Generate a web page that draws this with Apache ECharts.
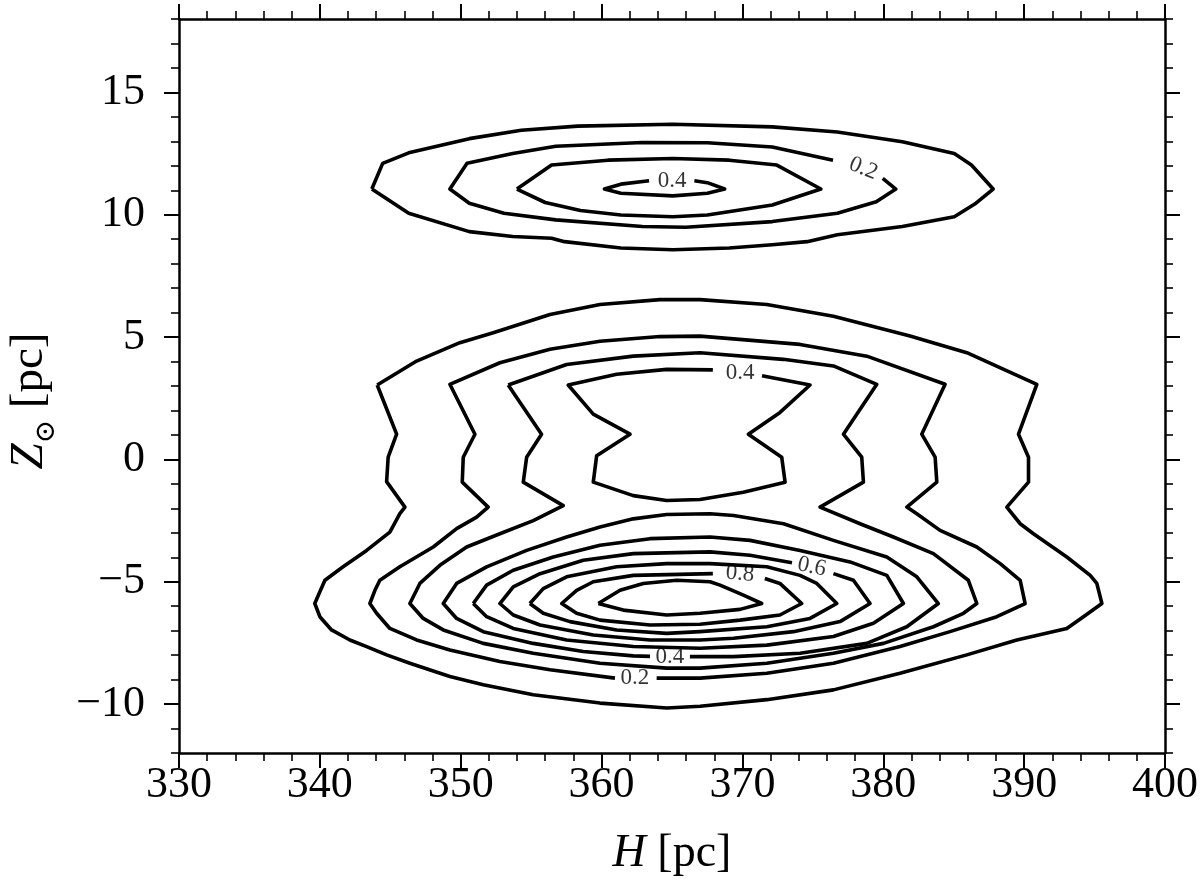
<!DOCTYPE html>
<html><head><meta charset="utf-8">
<script src="https://cdn.jsdelivr.net/npm/echarts@6/dist/echarts.min.js"></script>
<style>html,body{margin:0;padding:0;background:#fff}#c{width:1200px;height:894px}</style>
</head><body><div id="c"></div>
<script>
// ---- axis ticks ----
const xTicks = [330, 340, 350, 360, 370, 380, 390, 400];
const yTicks = [-10, -5, 0, 5, 10, 15];

// ---- upper cluster (Z ~ 11 pc), levels 0.1 .. 0.4 ----
const top01 = [[343.69,11.05],[344.46,12.10],[346.31,12.53],[350.61,13.11],[354.30,13.45],[358.30,13.62],[365.06,13.70],[372.12,13.59],[376.74,13.38],[381.35,12.98],[385.04,12.50],[386.26,12.03],[387.80,11.05],[386.58,10.47],[385.04,9.92],[381.35,9.52],[376.74,9.18],[374.59,8.90],[372.12,8.77],[369.06,8.64],[365.06,8.57],[361.37,8.64],[357.37,8.90],[356.45,9.04],[353.69,9.11],[350.61,9.31],[346.31,10.06],[343.69,11.05]];
const top02 = [[379.96,11.49],[380.89,11.05],[379.50,10.53],[376.74,10.06],[372.12,9.72],[365.98,9.49],[362.90,9.52],[356.75,9.79],[353.07,10.06],[350.61,10.47],[349.23,11.05],[350.45,12.10],[353.69,12.50],[356.75,12.80],[362.90,12.95],[367.51,12.94],[372.12,12.77],[376.43,12.23]];
const top03 = [[353.99,11.05],[356.45,12.03],[360.45,12.23],[365.06,12.30],[369.06,12.23],[372.44,12.03],[375.57,11.05],[372.12,10.40],[367.51,9.99],[365.06,9.92],[361.37,9.99],[358.50,10.17],[356.00,10.50],[353.99,11.05]];
const top04 = [[366.59,11.39],[367.51,11.31],[368.74,11.05],[367.51,10.88],[365.06,10.77],[361.37,10.88],[360.20,11.05],[361.37,11.25],[363.37,11.39]];

// ---- lower cluster, levels 0.1 .. 0.9 ----
const low01 = [[344.07,3.04],[346.87,4.02],[349.94,4.77],[352.31,5.18],[356.34,5.92],[359.89,6.33],[364.15,6.53],[366.99,6.53],[371.73,6.33],[376.46,5.85],[381.90,5.04],[385.93,4.36],[390.90,3.07],[389.60,1.03],[390.31,0.09],[390.31,-0.93],[388.77,-1.95],[389.72,-2.63],[390.66,-3.04],[393.03,-3.99],[394.69,-4.74],[395.16,-5.07],[395.52,-5.89],[394.21,-6.43],[393.03,-6.91],[389.48,-7.38],[385.93,-7.99],[381.19,-8.74],[376.46,-9.42],[371.73,-9.82],[366.99,-10.09],[364.63,-10.16],[359.89,-9.96],[355.15,-9.62],[351.60,-9.21],[349.23,-8.87],[346.39,-8.33],[344.74,-7.99],[343.32,-7.65],[342.13,-7.38],[340.83,-6.97],[340.00,-6.43],[339.64,-5.89],[340.00,-5.41],[340.36,-4.94],[341.65,-4.39],[343.32,-3.72],[344.97,-2.97],[345.68,-2.22],[346.04,-1.95],[344.74,-0.91],[344.85,0.09],[345.45,1.03],[344.07,3.04]];
const low02 = [[363.91,-8.94],[366.99,-8.94],[371.73,-8.74],[376.46,-8.33],[381.19,-7.65],[384.74,-7.04],[388.06,-6.43],[390.07,-5.89],[389.72,-4.94],[388.30,-4.26],[386.64,-3.58],[384.03,-2.90],[382.38,-2.22],[381.67,-1.95],[383.80,-0.93],[383.68,0.09],[382.73,1.03],[384.39,3.07],[378.83,4.22],[374.09,4.70],[366.99,5.04],[364.15,5.02],[359.89,4.83],[356.34,4.50],[352.78,3.95],[349.23,3.07],[351.01,1.03],[350.18,0.09],[350.11,-0.93],[351.95,-1.95],[351.13,-2.36],[349.71,-2.83],[348.05,-3.58],[345.68,-4.39],[344.26,-4.94],[343.91,-5.35],[343.55,-5.89],[344.03,-6.29],[344.97,-6.91],[346.87,-7.38],[349.23,-7.79],[352.78,-8.26],[356.34,-8.60],[360.95,-8.94]];
const low03 = [[353.37,3.04],[357.52,3.88],[362.25,4.22],[366.99,4.36],[372.90,4.09],[376.46,3.82],[379.54,3.07],[377.17,1.03],[378.47,0.09],[378.59,-0.93],[375.51,-1.95],[378.35,-2.63],[380.72,-3.17],[383.56,-3.85],[386.04,-4.94],[386.64,-5.89],[385.69,-6.29],[383.56,-6.84],[380.01,-7.52],[376.46,-7.92],[371.73,-8.33],[366.99,-8.53],[364.63,-8.53],[359.89,-8.33],[355.15,-7.92],[351.60,-7.52],[348.76,-6.97],[347.34,-6.50],[346.39,-5.89],[347.10,-5.07],[348.52,-4.33],[350.42,-3.58],[352.78,-3.04],[355.15,-2.50],[357.28,-1.89],[354.44,-0.93],[354.68,0.09],[355.74,1.03],[353.37,3.04]];
const low04a = [[371.39,3.42],[374.80,3.04],[372.67,1.92],[370.42,1.03],[372.79,0.09],[373.03,-0.93],[370.06,-1.34],[366.99,-1.64],[364.62,-1.68],[362.25,-1.48],[359.41,-0.93],[359.65,0.15],[362.02,1.03],[359.41,1.85],[357.63,3.04],[361.07,3.48],[364.62,3.68],[367.90,3.66]];
const low04b = [[363.44,-8.05],[362.25,-8.03],[358.70,-7.85],[355.15,-7.52],[351.60,-7.04],[349.71,-6.50],[348.76,-5.89],[349.71,-5.07],[351.84,-4.39],[354.68,-3.72],[357.52,-3.17],[359.89,-2.76],[362.25,-2.43],[364.62,-2.25],[367.70,-2.22],[369.37,-2.29],[372.92,-2.63],[376.46,-3.31],[380.25,-3.99],[382.38,-4.80],[383.91,-5.89],[381.67,-6.84],[378.83,-7.52],[374.09,-7.92],[369.37,-8.06],[366.27,-8.06]];
const low05 = [[350.89,-5.89],[351.84,-5.14],[353.73,-4.53],[356.57,-3.99],[359.89,-3.51],[363.44,-3.24],[367.70,-3.17],[370.54,-3.31],[374.09,-3.72],[377.64,-4.19],[380.25,-4.74],[381.43,-5.89],[379.30,-6.70],[376.46,-7.24],[371.73,-7.59],[366.99,-7.72],[362.25,-7.65],[357.52,-7.38],[353.73,-6.91],[351.84,-6.43],[350.89,-5.89]];
const low06 = [[376.46,-4.67],[377.88,-4.94],[379.06,-5.89],[376.93,-6.63],[373.62,-7.04],[369.37,-7.31],[366.99,-7.38],[363.44,-7.38],[359.41,-7.18],[355.63,-6.77],[353.73,-6.36],[352.78,-5.89],[353.73,-5.21],[355.63,-4.67],[358.70,-4.12],[362.25,-3.85],[367.70,-3.78],[370.54,-3.92],[373.52,-4.22]];
const low07 = [[354.91,-5.89],[355.86,-5.28],[357.52,-4.80],[361.07,-4.39],[364.62,-4.26],[367.70,-4.26],[371.73,-4.39],[374.09,-4.74],[375.28,-5.07],[376.70,-5.89],[374.80,-6.50],[371.73,-6.84],[366.99,-7.04],[364.62,-7.11],[361.07,-6.97],[357.75,-6.63],[355.86,-6.29],[354.91,-5.89]];
const low08 = [[371.59,-4.87],[372.66,-5.07],[374.21,-5.89],[372.66,-6.36],[369.83,-6.57],[366.99,-6.74],[363.44,-6.77],[359.89,-6.57],[358.23,-6.29],[357.17,-5.89],[358.23,-5.35],[359.41,-5.00],[362.25,-4.74],[367.90,-4.67]];
const low09 = [[359.77,-5.89],[361.31,-5.35],[362.96,-5.07],[365.33,-4.94],[367.70,-5.00],[368.41,-5.14],[370.07,-5.55],[371.37,-5.89],[369.83,-6.13],[366.99,-6.29],[364.62,-6.36],[361.54,-6.16],[359.77,-5.89]];

// ---- contour labels ----
const labelText = ['0.2', '0.4', '0.4', '0.6', '0.8', '0.4', '0.2'];
const labelX = [378.58, 365.00, 369.83, 374.92, 369.83, 364.85, 362.37];
const labelY = [11.89, 11.38, 3.55, -4.39, -4.67, -8.06, -8.95];

// ---- styling ----
const FONT = '"Liberation Serif", "DejaVu Serif", serif';
const labelAngle = [-22, 0, 0, -12, -5, 0, 0];
const contours = [top01, top02, top03, top04, low01, low02, low03, low04a, low04b, low05, low06, low07, low08, low09];

const fmt = v => v < 0 ? '\u2212' + Math.abs(v) : String(v);
const axisLineStyle = {color: '#000', width: 2.5};
const majorTick = {color: '#000', width: 2};
const minorTickStyle = {color: '#000', width: 1.6};

const chart = echarts.init(document.getElementById('c'), null, {renderer: 'canvas'});
const option = {
  animation: false,
  backgroundColor: '#fff',
  grid: {left: 179, top: 19, width: 986, height: 734, containLabel: false, outerBoundsMode: 'none'},
  xAxis: [
    {type: 'value', min: xTicks[0], max: xTicks[xTicks.length - 1], interval: 10, position: 'bottom',
     axisLine: {show: true, onZero: false, lineStyle: axisLineStyle},
     axisTick: {show: true, inside: false, length: 15, lineStyle: majorTick},
     minorTick: {show: true, splitNumber: 5, length: 8, lineStyle: minorTickStyle},
     axisLabel: {fontSize: 44, fontFamily: FONT, color: '#000', margin: 10},
     splitLine: {show: false},
     name: '{i|H} [pc]', nameLocation: 'middle', nameGap: 78,
     nameTextStyle: {fontSize: 46, fontFamily: FONT, color: '#000',
       rich: {i: {fontSize: 46, fontFamily: FONT, fontStyle: 'italic', color: '#000'}}}},
    {type: 'value', min: xTicks[0], max: xTicks[xTicks.length - 1], interval: 10, position: 'top',
     axisLine: {show: true, onZero: false, lineStyle: axisLineStyle},
     axisTick: {show: true, inside: false, length: 15, lineStyle: majorTick},
     minorTick: {show: true, splitNumber: 5, length: 8, lineStyle: minorTickStyle},
     axisLabel: {show: false}, splitLine: {show: false}}
  ],
  yAxis: [
    {type: 'value', min: -12, max: 18, position: 'left',
     axisLine: {show: true, onZero: false, lineStyle: axisLineStyle},
     axisTick: {show: true, inside: false, length: 15, lineStyle: majorTick, customValues: yTicks},
     axisLabel: {fontSize: 44, fontFamily: FONT, color: '#000', margin: 34, customValues: yTicks, formatter: fmt},
     splitLine: {show: false},
     name: '{i|Z}{s|\u2299} [pc]', nameLocation: 'middle', nameGap: 118,
     nameTextStyle: {fontSize: 47, fontFamily: FONT, color: '#000', padding: [0, 30, 0, 0],
       rich: {i: {fontSize: 47, fontFamily: FONT, fontStyle: 'italic', color: '#000'},
              s: {fontSize: 28, fontFamily: '"DejaVu Serif", serif', color: '#000', verticalAlign: 'bottom', lineHeight: 62}}}},
    {type: 'value', min: -12, max: 18, interval: 1, position: 'left',
     axisLine: {show: false, onZero: false},
     axisTick: {show: true, inside: false, length: 8, lineStyle: minorTickStyle},
     axisLabel: {show: false}, splitLine: {show: false}},
    {type: 'value', min: -12, max: 18, position: 'right',
     axisLine: {show: true, onZero: false, lineStyle: axisLineStyle},
     axisTick: {show: true, inside: false, length: 15, lineStyle: majorTick, customValues: yTicks},
     axisLabel: {show: false}, splitLine: {show: false}},
    {type: 'value', min: -12, max: 18, interval: 1, position: 'right',
     axisLine: {show: false, onZero: false},
     axisTick: {show: true, inside: false, length: 8, lineStyle: minorTickStyle},
     axisLabel: {show: false}, splitLine: {show: false}}
  ],
  series: contours.map(d => ({
    type: 'line', data: d, xAxisIndex: 0, yAxisIndex: 0,
    showSymbol: false, symbol: 'none', smooth: false, silent: true,
    lineStyle: {color: '#000', width: 3.6, join: 'round'}
  })).concat([{
    type: 'scatter', xAxisIndex: 0, yAxisIndex: 0, symbolSize: 0, silent: true,
    data: labelText.map((t, i) => ({value: [labelX[i], labelY[i]], name: t, label: {rotate: labelAngle[i]}})),
    label: {show: true, position: 'inside', formatter: p => p.name,
            fontSize: 23, fontFamily: FONT, color: '#000'}
  }])
};
chart.setOption(option);
</script>
</body></html>
